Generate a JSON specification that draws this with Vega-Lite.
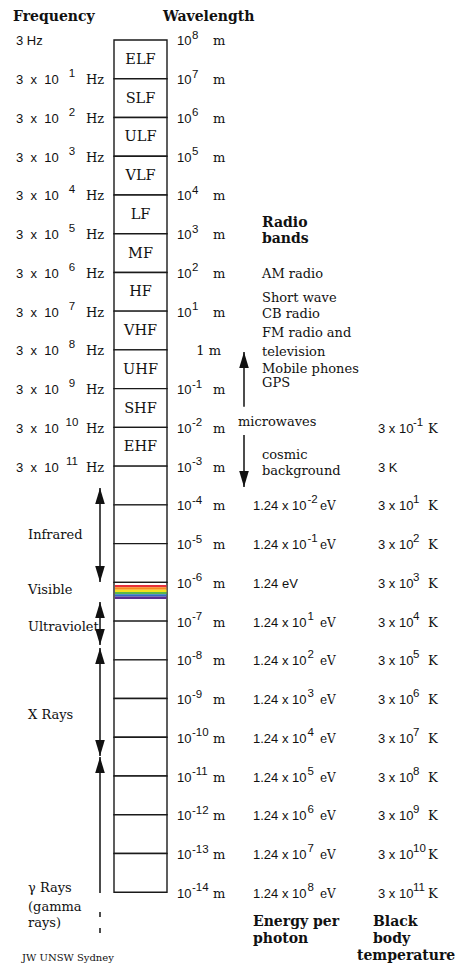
{
  "$schema": "https://vega.github.io/schema/vega-lite/v6.json",
  "width": 462,
  "height": 968,
  "autosize": {"type": "fit", "contains": "padding"},
  "padding": 0,
  "background": "white",
  "config": {"view": {"stroke": null}, "text": {"font": "DejaVu Serif", "fontSize": 13, "color": "#111", "baseline": "middle", "align": "left"}},
  "datasets": {
    "bands": [
      {"upper": 8, "lower": 7, "band": "ELF"},
      {"upper": 7, "lower": 6, "band": "SLF"},
      {"upper": 6, "lower": 5, "band": "ULF"},
      {"upper": 5, "lower": 4, "band": "VLF"},
      {"upper": 4, "lower": 3, "band": "LF"},
      {"upper": 3, "lower": 2, "band": "MF"},
      {"upper": 2, "lower": 1, "band": "HF"},
      {"upper": 1, "lower": 0, "band": "VHF"},
      {"upper": 0, "lower": -1, "band": "UHF"},
      {"upper": -1, "lower": -2, "band": "SHF"},
      {"upper": -2, "lower": -3, "band": "EHF"},
      {"upper": -3, "lower": -4, "band": ""},
      {"upper": -4, "lower": -5, "band": ""},
      {"upper": -5, "lower": -6, "band": ""},
      {"upper": -6, "lower": -7, "band": ""},
      {"upper": -7, "lower": -8, "band": ""},
      {"upper": -8, "lower": -9, "band": ""},
      {"upper": -9, "lower": -10, "band": ""},
      {"upper": -10, "lower": -11, "band": ""},
      {"upper": -11, "lower": -12, "band": ""},
      {"upper": -12, "lower": -13, "band": ""},
      {"upper": -13, "lower": -14, "band": ""}
    ],
    "visible": [
      {"hue": "red", "upper": -6.068, "lower": -6.128},
      {"hue": "orange", "upper": -6.128, "lower": -6.188},
      {"hue": "yellow", "upper": -6.188, "lower": -6.248},
      {"hue": "green", "upper": -6.248, "lower": -6.308},
      {"hue": "blue", "upper": -6.308, "lower": -6.368},
      {"hue": "violet", "upper": -6.368, "lower": -6.43}
    ],
    "decades": [
      {"lw": 8, "freq": "3 Hz", "fexp": "", "wave": "10", "wexp": "8", "energy": "", "eexp": "", "temp": "", "texp": ""},
      {"lw": 7, "freq": "3\u00a0\u00a0x\u00a0\u00a010", "fexp": "1", "wave": "10", "wexp": "7", "energy": "", "eexp": "", "temp": "", "texp": ""},
      {"lw": 6, "freq": "3\u00a0\u00a0x\u00a0\u00a010", "fexp": "2", "wave": "10", "wexp": "6", "energy": "", "eexp": "", "temp": "", "texp": ""},
      {"lw": 5, "freq": "3\u00a0\u00a0x\u00a0\u00a010", "fexp": "3", "wave": "10", "wexp": "5", "energy": "", "eexp": "", "temp": "", "texp": ""},
      {"lw": 4, "freq": "3\u00a0\u00a0x\u00a0\u00a010", "fexp": "4", "wave": "10", "wexp": "4", "energy": "", "eexp": "", "temp": "", "texp": ""},
      {"lw": 3, "freq": "3\u00a0\u00a0x\u00a0\u00a010", "fexp": "5", "wave": "10", "wexp": "3", "energy": "", "eexp": "", "temp": "", "texp": ""},
      {"lw": 2, "freq": "3\u00a0\u00a0x\u00a0\u00a010", "fexp": "6", "wave": "10", "wexp": "2", "energy": "", "eexp": "", "temp": "", "texp": ""},
      {"lw": 1, "freq": "3\u00a0\u00a0x\u00a0\u00a010", "fexp": "7", "wave": "10", "wexp": "1", "energy": "", "eexp": "", "temp": "", "texp": ""},
      {"lw": 0, "freq": "3\u00a0\u00a0x\u00a0\u00a010", "fexp": "8", "wave": "1 m", "wexp": "", "energy": "", "eexp": "", "temp": "", "texp": ""},
      {"lw": -1, "freq": "3\u00a0\u00a0x\u00a0\u00a010", "fexp": "9", "wave": "10", "wexp": "-1", "energy": "", "eexp": "", "temp": "", "texp": ""},
      {"lw": -2, "freq": "3\u00a0\u00a0x\u00a0\u00a010", "fexp": "10", "wave": "10", "wexp": "-2", "energy": "", "eexp": "", "temp": "3 x 10", "texp": "-1"},
      {"lw": -3, "freq": "3\u00a0\u00a0x\u00a0\u00a010", "fexp": "11", "wave": "10", "wexp": "-3", "energy": "", "eexp": "", "temp": "3 K", "texp": ""},
      {"lw": -4, "freq": "", "fexp": "", "wave": "10", "wexp": "-4", "energy": "1.24 x 10", "eexp": "-2", "temp": "3 x 10", "texp": "1"},
      {"lw": -5, "freq": "", "fexp": "", "wave": "10", "wexp": "-5", "energy": "1.24 x 10", "eexp": "-1", "temp": "3 x 10", "texp": "2"},
      {"lw": -6, "freq": "", "fexp": "", "wave": "10", "wexp": "-6", "energy": "1.24 eV", "eexp": "", "temp": "3 x 10", "texp": "3"},
      {"lw": -7, "freq": "", "fexp": "", "wave": "10", "wexp": "-7", "energy": "1.24 x 10", "eexp": "1", "temp": "3 x 10", "texp": "4"},
      {"lw": -8, "freq": "", "fexp": "", "wave": "10", "wexp": "-8", "energy": "1.24 x 10", "eexp": "2", "temp": "3 x 10", "texp": "5"},
      {"lw": -9, "freq": "", "fexp": "", "wave": "10", "wexp": "-9", "energy": "1.24 x 10", "eexp": "3", "temp": "3 x 10", "texp": "6"},
      {"lw": -10, "freq": "", "fexp": "", "wave": "10", "wexp": "-10", "energy": "1.24 x 10", "eexp": "4", "temp": "3 x 10", "texp": "7"},
      {"lw": -11, "freq": "", "fexp": "", "wave": "10", "wexp": "-11", "energy": "1.24 x 10", "eexp": "5", "temp": "3 x 10", "texp": "8"},
      {"lw": -12, "freq": "", "fexp": "", "wave": "10", "wexp": "-12", "energy": "1.24 x 10", "eexp": "6", "temp": "3 x 10", "texp": "9"},
      {"lw": -13, "freq": "", "fexp": "", "wave": "10", "wexp": "-13", "energy": "1.24 x 10", "eexp": "7", "temp": "3 x 10", "texp": "10"},
      {"lw": -14, "freq": "", "fexp": "", "wave": "10", "wexp": "-14", "energy": "1.24 x 10", "eexp": "8", "temp": "3 x 10", "texp": "11"}
    ],
    "labels": [
      {"text": "Infrared", "lw": -4.777, "group": "region"},
      {"text": "Visible", "lw": -6.197, "group": "region"},
      {"text": "Ultraviolet", "lw": -7.152, "group": "region"},
      {"text": "X Rays", "lw": -9.424, "group": "region"},
      {"text": "γ Rays", "lw": -13.89, "group": "region"},
      {"text": "(gamma", "lw": -14.38, "group": "region"},
      {"text": "rays)", "lw": -14.79, "group": "region"},
      {"text": "Radio", "lw": 3.276, "group": "radioHead"},
      {"text": "bands", "lw": 2.863, "group": "radioHead"},
      {"text": "AM radio", "lw": 1.96, "group": "radio"},
      {"text": "Short wave", "lw": 1.34, "group": "radio"},
      {"text": "CB radio", "lw": 0.927, "group": "radio"},
      {"text": "FM radio and", "lw": 0.437, "group": "radio"},
      {"text": "television", "lw": -0.054, "group": "radio"},
      {"text": "Mobile phones", "lw": -0.493, "group": "radio"},
      {"text": "GPS", "lw": -0.854, "group": "radio"},
      {"text": "cosmic", "lw": -2.712, "group": "radio"},
      {"text": "background", "lw": -3.125, "group": "radio"},
      {"text": "microwaves", "lw": -1.861, "group": "micro"},
      {"text": "Frequency", "lw": 8.594, "group": "headFreq"},
      {"text": "Wavelength", "lw": 8.594, "group": "headWave"},
      {"text": "Energy per", "lw": -14.767, "group": "headEnergy"},
      {"text": "photon", "lw": -15.206, "group": "headEnergy"},
      {"text": "Black", "lw": -14.767, "group": "headTempA"},
      {"text": "body", "lw": -15.206, "group": "headTempA"},
      {"text": "temperature", "lw": -15.645, "group": "headTempB"},
      {"text": "JW UNSW Sydney", "lw": -15.7, "group": "credit"}
    ],
    "arrows": [
      {"track": "left", "name": "Infrared", "top": -3.564, "bottom": -5.99, "headUp": true, "headDown": true},
      {"track": "left", "name": "Ultraviolet", "top": -6.507, "bottom": -7.617, "headUp": true, "headDown": true},
      {"track": "left", "name": "X Rays", "top": -7.694, "bottom": -10.48, "headUp": true, "headDown": true},
      {"track": "left", "name": "Gamma rays", "top": -10.51, "bottom": -14.02, "headUp": true, "headDown": false},
      {"track": "left", "name": "Gamma rays (dash 1)", "top": -14.51, "bottom": -14.64, "headUp": false, "headDown": false},
      {"track": "left", "name": "Gamma rays (dash 2)", "top": -14.92, "bottom": -15.05, "headUp": false, "headDown": false},
      {"track": "micro", "name": "Microwaves (longer)", "top": -0.054, "bottom": -1.47, "headUp": true, "headDown": false},
      {"track": "micro", "name": "Microwaves (shorter)", "top": -2.196, "bottom": -3.54, "headUp": false, "headDown": true}
    ]
  },
  "layer": [
    {
      "data": {"name": "bands"},
      "mark": {"type": "rect", "fill": "white", "stroke": "#1a1a1a", "strokeWidth": 1.4},
      "encoding": {
        "x": {"datum": 114, "type": "quantitative", "scale": {"domain": [0, 462], "nice": false, "zero": false}, "axis": null},
        "x2": {"datum": 167},
        "y": {"field": "upper", "type": "quantitative", "scale": {"domain": [-15.955, 9.0325], "nice": false, "zero": false}, "axis": null},
        "y2": {"field": "lower"}
      }
    },
    {
      "data": {"name": "visible"},
      "mark": {"type": "rect", "strokeWidth": 0},
      "encoding": {
        "x": {"datum": 115, "type": "quantitative", "scale": {"domain": [0, 462], "nice": false, "zero": false}, "axis": null},
        "x2": {"datum": 166.5},
        "y": {"field": "upper", "type": "quantitative", "scale": {"domain": [-15.955, 9.0325], "nice": false, "zero": false}, "axis": null},
        "y2": {"field": "lower"},
        "color": {"field": "hue", "type": "nominal", "legend": null, "scale": {"domain": ["red", "orange", "yellow", "green", "blue", "violet"], "range": ["#e8303a", "#f68b1f", "#f5e11e", "#5cb848", "#2f6fc0", "#5a2d91"]}}
      }
    },
    {
      "data": {"name": "bands"},
      "transform": [{"filter": "datum.band != ''"}],
      "mark": {"type": "text", "align": "center", "dy": 20, "fontSize": 14.5},
      "encoding": {
        "x": {"datum": 140.5, "type": "quantitative"},
        "y": {"field": "upper", "type": "quantitative"},
        "text": {"field": "band"}
      }
    },
    {
      "data": {"name": "decades"},
      "transform": [{"filter": "datum.freq != ''"}],
      "mark": {"type": "text", "font": "Liberation Sans", "fontSize": 13, "dy": 1.5},
      "encoding": {"x": {"datum": 16, "type": "quantitative"}, "y": {"field": "lw", "type": "quantitative"}, "text": {"field": "freq"}}
    },
    {
      "data": {"name": "decades"},
      "transform": [{"filter": "datum.fexp != ''"}],
      "mark": {"type": "text", "font": "Liberation Sans", "fontSize": 11.5, "align": "center", "dy": -4.5},
      "encoding": {"x": {"datum": 72, "type": "quantitative"}, "y": {"field": "lw", "type": "quantitative"}, "text": {"field": "fexp"}}
    },
    {
      "data": {"name": "decades"},
      "transform": [{"filter": "datum.fexp != ''"}],
      "mark": {"type": "text", "fontSize": 13, "dy": 1.5},
      "encoding": {"x": {"datum": 86, "type": "quantitative"}, "y": {"field": "lw", "type": "quantitative"}, "text": {"value": "Hz"}}
    },
    {
      "data": {"name": "decades"},
      "transform": [{"filter": "datum.wexp != ''"}],
      "mark": {"type": "text", "font": "Liberation Sans", "fontSize": 13, "dy": 1.5},
      "encoding": {"x": {"datum": 177, "type": "quantitative"}, "y": {"field": "lw", "type": "quantitative"}, "text": {"field": "wave"}}
    },
    {
      "data": {"name": "decades"},
      "transform": [{"filter": "datum.wexp != ''"}],
      "mark": {"type": "text", "font": "Liberation Sans", "fontSize": 11.5, "dy": -4},
      "encoding": {"x": {"datum": 192, "type": "quantitative"}, "y": {"field": "lw", "type": "quantitative"}, "text": {"field": "wexp"}}
    },
    {
      "data": {"name": "decades"},
      "transform": [{"filter": "datum.wexp != ''"}],
      "mark": {"type": "text", "fontSize": 13, "dy": 1.5},
      "encoding": {"x": {"datum": 213, "type": "quantitative"}, "y": {"field": "lw", "type": "quantitative"}, "text": {"value": "m"}}
    },
    {
      "data": {"name": "decades"},
      "transform": [{"filter": "datum.wave != '' && datum.wexp == ''"}],
      "mark": {"type": "text", "fontSize": 13, "align": "right", "dy": 1.5},
      "encoding": {"x": {"datum": 221, "type": "quantitative"}, "y": {"field": "lw", "type": "quantitative"}, "text": {"field": "wave"}}
    },
    {
      "data": {"name": "decades"},
      "transform": [{"filter": "datum.energy != ''"}],
      "mark": {"type": "text", "font": "Liberation Sans", "fontSize": 13, "dy": 1.5},
      "encoding": {"x": {"datum": 253, "type": "quantitative"}, "y": {"field": "lw", "type": "quantitative"}, "text": {"field": "energy"}}
    },
    {
      "data": {"name": "decades"},
      "transform": [{"filter": "datum.eexp != ''"}],
      "mark": {"type": "text", "font": "Liberation Sans", "fontSize": 11.5, "dy": -4.5},
      "encoding": {"x": {"datum": 307.5, "type": "quantitative"}, "y": {"field": "lw", "type": "quantitative"}, "text": {"field": "eexp"}}
    },
    {
      "data": {"name": "decades"},
      "transform": [{"filter": "datum.eexp != ''"}],
      "mark": {"type": "text", "fontSize": 12, "dy": 1.5},
      "encoding": {"x": {"datum": 320, "type": "quantitative"}, "y": {"field": "lw", "type": "quantitative"}, "text": {"value": "eV"}}
    },
    {
      "data": {"name": "decades"},
      "transform": [{"filter": "datum.temp != ''"}],
      "mark": {"type": "text", "font": "Liberation Sans", "fontSize": 13, "dy": 1.5},
      "encoding": {"x": {"datum": 378, "type": "quantitative"}, "y": {"field": "lw", "type": "quantitative"}, "text": {"field": "temp"}}
    },
    {
      "data": {"name": "decades"},
      "transform": [{"filter": "datum.texp != ''"}],
      "mark": {"type": "text", "font": "Liberation Sans", "fontSize": 11.5, "dy": -4.5},
      "encoding": {"x": {"datum": 413, "type": "quantitative"}, "y": {"field": "lw", "type": "quantitative"}, "text": {"field": "texp"}}
    },
    {
      "data": {"name": "decades"},
      "transform": [{"filter": "datum.texp != ''"}],
      "mark": {"type": "text", "fontSize": 13, "dy": 1.5},
      "encoding": {"x": {"datum": 428, "type": "quantitative"}, "y": {"field": "lw", "type": "quantitative"}, "text": {"value": "K"}}
    },
    {
      "data": {"name": "labels"},
      "transform": [{"filter": "datum.group == 'region'"}],
      "mark": {"type": "text", "fontSize": 13},
      "encoding": {"x": {"datum": 28, "type": "quantitative"}, "y": {"field": "lw", "type": "quantitative"}, "text": {"field": "text"}}
    },
    {
      "data": {"name": "labels"},
      "transform": [{"filter": "datum.group == 'radio'"}],
      "mark": {"type": "text", "fontSize": 13},
      "encoding": {"x": {"datum": 262, "type": "quantitative"}, "y": {"field": "lw", "type": "quantitative"}, "text": {"field": "text"}}
    },
    {
      "data": {"name": "labels"},
      "transform": [{"filter": "datum.group == 'radioHead'"}],
      "mark": {"type": "text", "fontSize": 14, "fontWeight": "bold"},
      "encoding": {"x": {"datum": 262, "type": "quantitative"}, "y": {"field": "lw", "type": "quantitative"}, "text": {"field": "text"}}
    },
    {
      "data": {"name": "labels"},
      "transform": [{"filter": "datum.group == 'micro'"}],
      "mark": {"type": "text", "fontSize": 13},
      "encoding": {"x": {"datum": 238, "type": "quantitative"}, "y": {"field": "lw", "type": "quantitative"}, "text": {"field": "text"}}
    },
    {
      "data": {"name": "labels"},
      "transform": [{"filter": "datum.group == 'headFreq'"}],
      "mark": {"type": "text", "fontSize": 14, "fontWeight": "bold"},
      "encoding": {"x": {"datum": 13, "type": "quantitative"}, "y": {"field": "lw", "type": "quantitative"}, "text": {"field": "text"}}
    },
    {
      "data": {"name": "labels"},
      "transform": [{"filter": "datum.group == 'headWave'"}],
      "mark": {"type": "text", "fontSize": 14, "fontWeight": "bold"},
      "encoding": {"x": {"datum": 163, "type": "quantitative"}, "y": {"field": "lw", "type": "quantitative"}, "text": {"field": "text"}}
    },
    {
      "data": {"name": "labels"},
      "transform": [{"filter": "datum.group == 'headEnergy'"}],
      "mark": {"type": "text", "fontSize": 14, "fontWeight": "bold"},
      "encoding": {"x": {"datum": 253, "type": "quantitative"}, "y": {"field": "lw", "type": "quantitative"}, "text": {"field": "text"}}
    },
    {
      "data": {"name": "labels"},
      "transform": [{"filter": "datum.group == 'headTempA'"}],
      "mark": {"type": "text", "fontSize": 14, "fontWeight": "bold"},
      "encoding": {"x": {"datum": 373, "type": "quantitative"}, "y": {"field": "lw", "type": "quantitative"}, "text": {"field": "text"}}
    },
    {
      "data": {"name": "labels"},
      "transform": [{"filter": "datum.group == 'headTempB'"}],
      "mark": {"type": "text", "fontSize": 14, "fontWeight": "bold"},
      "encoding": {"x": {"datum": 357, "type": "quantitative"}, "y": {"field": "lw", "type": "quantitative"}, "text": {"field": "text"}}
    },
    {
      "data": {"name": "labels"},
      "transform": [{"filter": "datum.group == 'credit'"}],
      "mark": {"type": "text", "fontSize": 10},
      "encoding": {"x": {"datum": 22, "type": "quantitative"}, "y": {"field": "lw", "type": "quantitative"}, "text": {"field": "text"}}
    },
    {
      "data": {"name": "arrows"},
      "transform": [{"filter": "datum.track == 'left'"}],
      "mark": {"type": "rule", "color": "#111", "strokeWidth": 1.5},
      "encoding": {"x": {"datum": 100, "type": "quantitative"}, "y": {"field": "top", "type": "quantitative"}, "y2": {"field": "bottom"}}
    },
    {
      "data": {"name": "arrows"},
      "transform": [{"filter": "datum.track == 'left' && datum.headUp"}],
      "mark": {"type": "point", "shape": "M0,0L0.6,2L-0.6,2Z", "filled": true, "size": 256, "color": "#111", "opacity": 1, "strokeWidth": 0},
      "encoding": {"x": {"datum": 100, "type": "quantitative"}, "y": {"field": "top", "type": "quantitative"}}
    },
    {
      "data": {"name": "arrows"},
      "transform": [{"filter": "datum.track == 'left' && datum.headDown"}],
      "mark": {"type": "point", "shape": "M0,0L0.6,-2L-0.6,-2Z", "filled": true, "size": 256, "color": "#111", "opacity": 1, "strokeWidth": 0},
      "encoding": {"x": {"datum": 100, "type": "quantitative"}, "y": {"field": "bottom", "type": "quantitative"}}
    },
    {
      "data": {"name": "arrows"},
      "transform": [{"filter": "datum.track == 'micro'"}],
      "mark": {"type": "rule", "color": "#111", "strokeWidth": 1.5},
      "encoding": {"x": {"datum": 244, "type": "quantitative"}, "y": {"field": "top", "type": "quantitative"}, "y2": {"field": "bottom"}}
    },
    {
      "data": {"name": "arrows"},
      "transform": [{"filter": "datum.track == 'micro' && datum.headUp"}],
      "mark": {"type": "point", "shape": "M0,0L0.6,2L-0.6,2Z", "filled": true, "size": 256, "color": "#111", "opacity": 1, "strokeWidth": 0},
      "encoding": {"x": {"datum": 244, "type": "quantitative"}, "y": {"field": "top", "type": "quantitative"}}
    },
    {
      "data": {"name": "arrows"},
      "transform": [{"filter": "datum.track == 'micro' && datum.headDown"}],
      "mark": {"type": "point", "shape": "M0,0L0.6,-2L-0.6,-2Z", "filled": true, "size": 256, "color": "#111", "opacity": 1, "strokeWidth": 0},
      "encoding": {"x": {"datum": 244, "type": "quantitative"}, "y": {"field": "bottom", "type": "quantitative"}}
    }
  ]
}
